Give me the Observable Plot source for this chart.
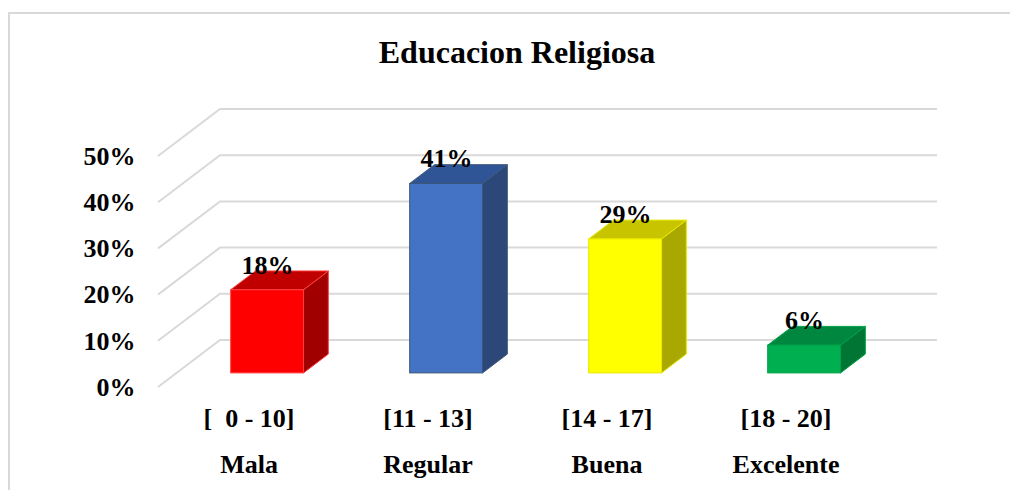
<!DOCTYPE html>
<html>
<head>
<meta charset="utf-8">
<script src="https://cdn.jsdelivr.net/npm/d3@7"></script>
<script src="https://cdn.jsdelivr.net/npm/@observablehq/plot@0.6"></script>
<style>
  html, body { margin: 0; padding: 0; background: #fff; overflow: hidden; }
  #wrap { position: relative; width: 1010px; height: 490px; }
  #border { position: absolute; left: 8px; top: 12px; right: -10px; bottom: -10px;
            border-top: 2px solid #D9D9D9; border-left: 2px solid #D9D9D9; pointer-events: none; }
  #chart { position: absolute; left: 0; top: 0; }
  #chart svg, #chart svg text { font-family: "Liberation Serif", "Times New Roman", serif !important; font-weight: bold; }
</style>
</head>
<body>
<div id="wrap"><div id="chart"></div><div id="border"></div></div>
<script>
// ---- data ----
const title = "Educacion Religiosa";
const levels = ["Mala", "Regular", "Buena", "Excelente"];
const ranges = ["[\u00a0 0 - 10]", "[11 - 13]", "[14 - 17]", "[18 - 20]"];
const values = [0.18, 0.41, 0.29, 0.06];
const yTicks = [0, 0.1, 0.2, 0.3, 0.4, 0.5];
const frontColors = ["#FF0000", "#4472C4", "#FFFF00", "#00B050"];
const topColors   = ["#C00000", "#2F5597", "#C8C400", "#00873F"];
const sideColors  = ["#A00000", "#2C4878", "#A8A800", "#007534"];
const edgeColors  = ["#FF4040", "#3E5779", "#E8E800", "#00A048"];

const rows = levels.map((l, i) => ({level: l, range: ranges[i], value: values[i], i}));

// 3D geometry (style)
const DX = 62, DY = -47;          // full depth vector
const F0 = 0.3, F1 = 0.7;         // bar front/back depth fractions
const BARW = 0.407;               // bar width as a fraction of the band
const FONT = "Liberation Serif";

const fmt = d3.format(".0%");

function grid3d(index, scales, vals, dims) {
  const {y} = scales;
  const g = d3.create("svg:g");
  const left = dims.marginLeft;
  const right = dims.width - dims.marginRight + DX;
  for (const t of yTicks) {
    const y0 = y(t);
    g.append("path")
      .attr("d", `M${left},${y0}L${left + DX},${y0 + DY}L${right},${y0 + DY}`)
      .attr("fill", "none").attr("stroke", "#D9D9D9").attr("stroke-width", 2);
  }
  return g.node();
}

function bars3d(index, scales, vals, dims) {
  const {x, y} = scales;
  const bw = x.bandwidth();
  const w = bw * BARW;
  const g = d3.create("svg:g");
  for (const r of rows) {
    const cx = x(r.level) + bw / 2 + F0 * DX;
    const x0 = cx - w / 2, x1 = cx + w / 2;
    const yb = y(0) + F0 * DY, yt = y(r.value) + F0 * DY;
    const ddx = (F1 - F0) * DX, ddy = (F1 - F0) * DY;
    g.append("path")
      .attr("d", `M${x1},${yt}L${x1 + ddx},${yt + ddy}L${x1 + ddx},${yb + ddy}L${x1},${yb}Z`)
      .attr("fill", sideColors[r.i]).attr("stroke", edgeColors[r.i]).attr("stroke-width", 1).attr("stroke-linejoin", "round");
    g.append("path")
      .attr("d", `M${x0},${yt}L${x0 + ddx},${yt + ddy}L${x1 + ddx},${yt + ddy}L${x1},${yt}Z`)
      .attr("fill", topColors[r.i]).attr("stroke", edgeColors[r.i]).attr("stroke-width", 1).attr("stroke-linejoin", "round");
    g.append("rect")
      .attr("x", x0).attr("y", yt).attr("width", w).attr("height", yb - yt)
      .attr("fill", frontColors[r.i]).attr("stroke", edgeColors[r.i]).attr("stroke-width", 1);
  }
  return g.node();
}

const txt = {fontFamily: FONT, fontWeight: "bold", fill: "#000", lineAnchor: "middle"};

const plot = Plot.plot({
  width: 1010,
  height: 490,
  marginLeft: 158,
  marginRight: 135,
  marginTop: 156,
  marginBottom: 103,
  x: {type: "band", domain: levels, padding: 0, axis: null},
  y: {domain: [0, 0.5], axis: null},
  style: {background: "transparent", color: "#000"},
  marks: [
    grid3d,
    bars3d,
    Plot.text(rows, {...txt, x: "level", y: "value", text: d => fmt(d.value), dx: F0 * DX, dy: F0 * DY - 25, fontSize: 26}),
    Plot.text(yTicks, {...txt, y: d => d, text: d => fmt(d), frameAnchor: "left", textAnchor: "end", dx: -23, fontSize: 26}),
    Plot.text(rows, {...txt, x: "level", text: "range", frameAnchor: "bottom", dy: 31, fontSize: 26}),
    Plot.text(rows, {...txt, x: "level", text: "level", frameAnchor: "bottom", dy: 77, fontSize: 26}),
    Plot.text([title], {...txt, text: d => d, frameAnchor: "top", dy: -104, fontSize: 32})
  ]
});
document.getElementById("chart").appendChild(plot);
</script>
</body>
</html>
